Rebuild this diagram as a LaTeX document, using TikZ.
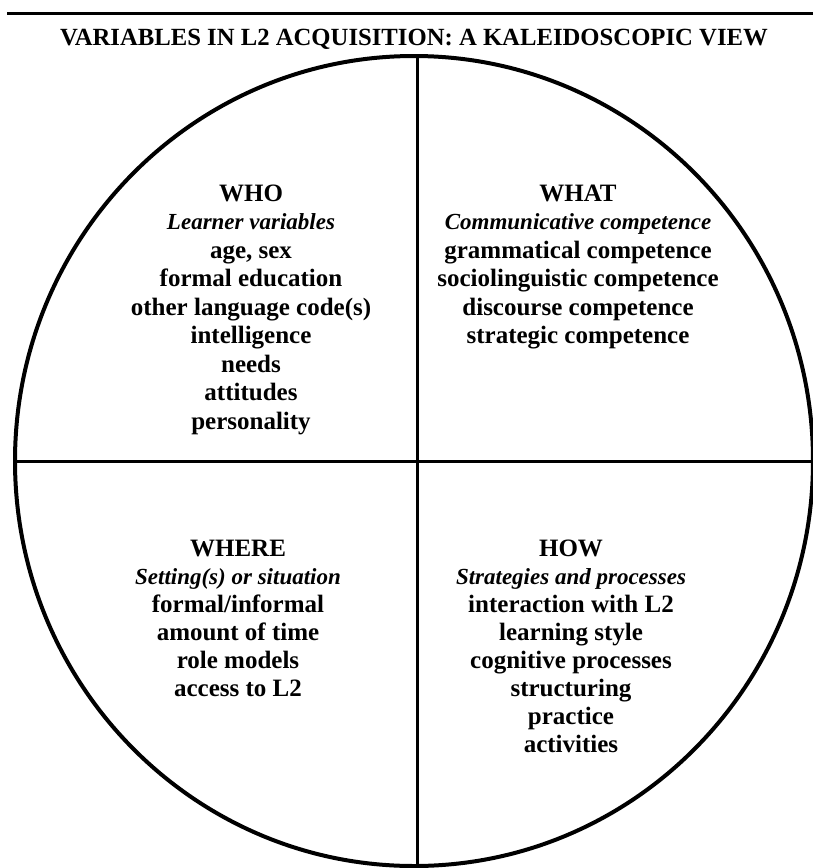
\documentclass[tikz,border=0pt]{standalone}
\usepackage{fontspec}
\setmainfont{Liberation Serif}
\begin{document}
\begin{tikzpicture}[x=1pt,y=-1pt,
  rule/.style={line width=3pt,black},
  ring/.style={line width=4pt,black},
  divider/.style={line width=3pt,black},
  ttl/.style={anchor=base,inner sep=0pt,font=\fontsize{24.7}{28}\selectfont\bfseries},
  txt/.style={anchor=base,inner sep=0pt,font=\fontsize{25}{28}\selectfont\bfseries},
  itx/.style={anchor=base,inner sep=0pt,font=\fontsize{23}{28}\selectfont\bfseries\itshape}]
\useasboundingbox (0,0) rectangle (813,868);
% top rule
\coordinate (rl) at (7,13);
\coordinate (rr) at (813,13);
\draw[rule] (rl) -- (rr);
\node[ttl] (title) at (414,45) {VARIABLES IN L2 ACQUISITION: A KALEIDOSCOPIC VIEW};
% circle
\coordinate (c) at (414,461);
\draw[ring] (c) ellipse [x radius=399, y radius=405];
\coordinate (top) at (417,56);
\coordinate (bot) at (417,866);
\coordinate (lft) at (15,461);
\coordinate (rgt) at (812,461);
\draw[divider] (top) -- (bot);
\draw[divider] (lft) -- (rgt);
% WHO
\node[txt] (who0) at (251,201) {WHO};
\node[itx] (who1) at (251,229.5) {Learner variables};
\node[txt] (who2) at (251,258) {age, sex};
\node[txt] (who3) at (251,286.5) {formal education};
\node[txt] (who4) at (251,315) {other language code(s)};
\node[txt] (who5) at (251,343.5) {intelligence};
\node[txt] (who6) at (251,372) {needs};
\node[txt] (who7) at (251,400.5) {attitudes};
\node[txt] (who8) at (251,429) {personality};
% WHAT
\node[txt] (what0) at (578,201) {WHAT};
\node[itx] (what1) at (578,229.5) {Communicative competence};
\node[txt] (what2) at (578,258) {grammatical competence};
\node[txt] (what3) at (578,286.5) {sociolinguistic competence};
\node[txt] (what4) at (578,315) {discourse competence};
\node[txt] (what5) at (578,343.5) {strategic competence};
% WHERE
\node[txt] (where0) at (238,556) {WHERE};
\node[itx] (where1) at (238,584) {Setting(s) or situation};
\node[txt] (where2) at (238,612) {formal/informal};
\node[txt] (where3) at (238,640) {amount of time};
\node[txt] (where4) at (238,668) {role models};
\node[txt] (where5) at (238,696) {access to L2};
% HOW
\node[txt] (how0) at (571,556) {HOW};
\node[itx] (how1) at (571,584) {Strategies and processes};
\node[txt] (how2) at (571,612) {interaction with L2};
\node[txt] (how3) at (571,640) {learning style};
\node[txt] (how4) at (571,668) {cognitive processes};
\node[txt] (how5) at (571,696) {structuring};
\node[txt] (how6) at (571,724) {practice};
\node[txt] (how7) at (571,752) {activities};
\end{tikzpicture}
\end{document}
